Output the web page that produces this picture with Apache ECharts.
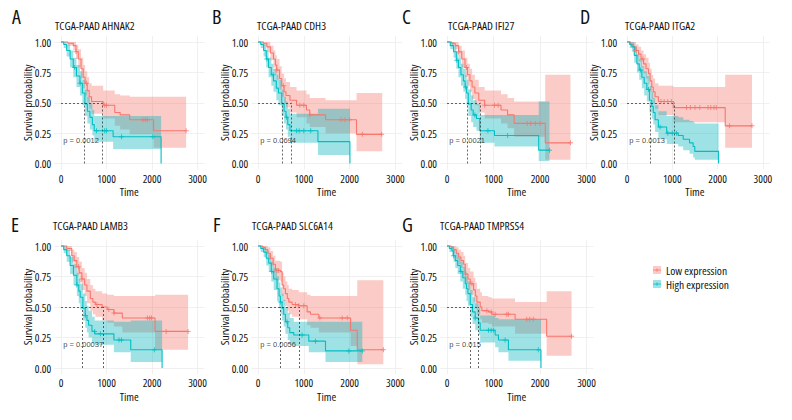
<!DOCTYPE html>
<html><head><meta charset="utf-8">
<script src="https://cdn.jsdelivr.net/npm/echarts@6/dist/echarts.min.js"></script>
<style>html,body{margin:0;padding:0;background:#fff}#c{width:792px;height:420px}
#c svg text{font-stretch:75% !important;font-weight:400 !important;}
</style>
</head><body><div id="c"></div>
<script>
// ---------- data ----------
const panelLetters = ['A','B','C','D','E','F','G'];
const panelTitles = ['TCGA-PAAD AHNAK2','TCGA-PAAD CDH3','TCGA-PAAD IFI27','TCGA-PAAD ITGA2','TCGA-PAAD LAMB3','TCGA-PAAD SLC6A14','TCGA-PAAD TMPRSS4'];
const pValues = ['p = 0.0012','p = 0.0694','p = 0.0021','p = 0.0013','p = 0.00037','p = 0.0056','p = 0.015'];
const medianHigh = [511,525,444,511,474,489,493];
const medianLow  = [912,727,711,1036,919,905,671];
const xTicks = [0,1000,2000,3000];
const yTicks = [0,0.25,0.5,0.75,1];
const groupNames = ['Low expression','High expression'];
// rows: [time, survival, lower CI, upper CI]
const A_low = [[0,1,1,1],[150,0.99,0.97,1],[270,0.97,0.93,1],[330,0.92,0.86,0.98],[380,0.86,0.79,0.94],[440,0.78,0.70,0.87],[489,0.71,0.62,0.81],[530,0.66,0.56,0.76],[577,0.60,0.50,0.71],[620,0.55,0.45,0.66],[672,0.51,0.41,0.64],[927,0.48,0.37,0.60],[1182,0.42,0.31,0.57],[1300,0.40,0.28,0.56],[1510,0.36,0.24,0.55],[2036,0.27,0.13,0.55],[2750,0.27,0.13,0.55]];
const A_high = [[0,1,1,1],[60,0.98,0.95,1],[124,0.93,0.88,0.98],[200,0.86,0.79,0.93],[270,0.79,0.71,0.87],[340,0.72,0.63,0.81],[416,0.66,0.56,0.76],[470,0.58,0.48,0.69],[525,0.49,0.39,0.61],[580,0.43,0.33,0.55],[635,0.38,0.28,0.50],[690,0.32,0.23,0.44],[730,0.27,0.18,0.39],[1146,0.22,0.12,0.39],[2200,0,0,0]];
const B_low = [[0,1,1,1],[120,0.99,0.97,1],[194,0.96,0.92,1],[270,0.91,0.85,0.97],[338,0.86,0.79,0.93],[380,0.81,0.73,0.89],[410,0.77,0.69,0.86],[470,0.70,0.61,0.80],[518,0.64,0.55,0.74],[570,0.59,0.49,0.70],[611,0.56,0.46,0.67],[698,0.52,0.42,0.63],[842,0.48,0.38,0.60],[1058,0.44,0.33,0.57],[1130,0.40,0.30,0.54],[1475,0.36,0.25,0.52],[2151,0.24,0.10,0.58],[2712,0.24,0.10,0.58]];
const B_high = [[0,1,1,1],[60,0.98,0.95,1],[122,0.93,0.88,0.98],[180,0.86,0.79,0.93],[230,0.79,0.71,0.87],[290,0.73,0.64,0.82],[338,0.68,0.59,0.78],[400,0.62,0.52,0.73],[446,0.58,0.48,0.69],[518,0.49,0.39,0.61],[570,0.43,0.33,0.55],[611,0.38,0.28,0.51],[650,0.32,0.22,0.45],[698,0.27,0.17,0.41],[1309,0.18,0.07,0.45],[2007,0,0,0]];
const C_low = [[0,1,1,1],[100,0.99,0.97,1],[176,0.97,0.94,1],[250,0.92,0.87,0.97],[317,0.86,0.79,0.93],[387,0.79,0.71,0.87],[440,0.73,0.64,0.82],[493,0.68,0.59,0.78],[540,0.63,0.53,0.73],[599,0.58,0.48,0.69],[683,0.52,0.42,0.63],[810,0.48,0.37,0.60],[1162,0.44,0.33,0.57],[1303,0.40,0.29,0.54],[1444,0.33,0.22,0.51],[2113,0.17,0.03,0.73],[2655,0.17,0.03,0.73]];
const C_high = [[0,1,1,1],[70,0.97,0.94,1],[141,0.92,0.87,0.97],[200,0.85,0.78,0.92],[246,0.79,0.71,0.87],[300,0.73,0.64,0.82],[352,0.68,0.59,0.78],[390,0.63,0.53,0.73],[422,0.58,0.48,0.69],[458,0.49,0.39,0.61],[520,0.44,0.34,0.56],[563,0.40,0.30,0.52],[634,0.37,0.27,0.49],[704,0.27,0.17,0.40],[1021,0.23,0.14,0.40],[1972,0.11,0.02,0.51],[2204,0.11,0.02,0.51]];
const D_low = [[0,1,1,1],[80,0.98,0.96,1],[146,0.96,0.92,1],[200,0.93,0.88,0.98],[255,0.90,0.84,0.96],[310,0.86,0.79,0.93],[365,0.82,0.74,0.90],[420,0.78,0.70,0.87],[474,0.74,0.65,0.83],[510,0.68,0.59,0.78],[547,0.63,0.53,0.73],[580,0.59,0.49,0.70],[620,0.55,0.45,0.66],[693,0.51,0.40,0.64],[1022,0.46,0.34,0.63],[2168,0.31,0.13,0.73],[2759,0.31,0.13,0.73]];
const D_high = [[0,1,1,1],[60,0.98,0.95,1],[109,0.96,0.92,1],[160,0.89,0.83,0.96],[219,0.82,0.75,0.90],[270,0.77,0.69,0.86],[328,0.71,0.62,0.80],[380,0.66,0.56,0.76],[438,0.61,0.51,0.72],[496,0.52,0.42,0.64],[547,0.47,0.37,0.59],[580,0.42,0.32,0.54],[620,0.36,0.26,0.48],[693,0.30,0.20,0.43],[876,0.25,0.16,0.39],[1131,0.23,0.14,0.38],[1241,0.20,0.11,0.36],[1380,0.17,0.08,0.35],[1460,0.14,0.05,0.34],[1496,0.10,0.03,0.33],[2022,0,0,0]];
const E_low = [[0,1,1,1],[126,0.98,0.96,1],[237,0.92,0.87,0.97],[290,0.88,0.82,0.95],[348,0.83,0.76,0.91],[400,0.78,0.70,0.87],[459,0.73,0.64,0.82],[520,0.68,0.59,0.78],[570,0.63,0.53,0.73],[644,0.57,0.47,0.68],[700,0.54,0.44,0.65],[756,0.52,0.42,0.63],[904,0.50,0.39,0.61],[1015,0.48,0.37,0.60],[1163,0.45,0.34,0.59],[1348,0.41,0.29,0.59],[2067,0.30,0.15,0.60],[2793,0.30,0.15,0.60]];
const E_high = [[0,1,1,1],[60,0.97,0.94,1],[126,0.92,0.87,0.97],[200,0.84,0.77,0.91],[274,0.76,0.68,0.85],[348,0.68,0.59,0.78],[390,0.63,0.53,0.73],[422,0.58,0.48,0.69],[481,0.49,0.39,0.61],[533,0.43,0.33,0.55],[570,0.39,0.29,0.51],[607,0.35,0.25,0.47],[681,0.30,0.20,0.42],[741,0.28,0.19,0.39],[1163,0.23,0.13,0.38],[1533,0.15,0.05,0.39],[2222,0,0,0]];
const F_low = [[0,1,1,1],[100,0.99,0.97,1],[160,0.97,0.94,1],[215,0.94,0.89,0.99],[270,0.90,0.84,0.96],[330,0.85,0.78,0.92],[380,0.80,0.72,0.88],[489,0.79,0.71,0.87],[526,0.68,0.59,0.78],[560,0.65,0.55,0.75],[599,0.61,0.51,0.71],[640,0.57,0.47,0.68],[672,0.54,0.44,0.65],[745,0.52,0.42,0.64],[891,0.51,0.40,0.62],[1073,0.46,0.35,0.60],[1146,0.44,0.33,0.59],[1328,0.41,0.29,0.59],[2022,0.31,0.18,0.59],[2168,0.15,0.03,0.72],[2737,0.15,0.03,0.72]];
const F_high = [[0,1,1,1],[60,0.98,0.95,1],[124,0.95,0.91,0.99],[180,0.90,0.84,0.96],[234,0.86,0.79,0.93],[290,0.79,0.71,0.87],[343,0.73,0.64,0.82],[416,0.65,0.55,0.75],[460,0.59,0.49,0.70],[489,0.54,0.44,0.66],[526,0.49,0.39,0.61],[560,0.44,0.34,0.56],[599,0.38,0.28,0.50],[650,0.33,0.23,0.45],[693,0.29,0.19,0.41],[781,0.27,0.18,0.38],[1109,0.22,0.13,0.38],[1474,0.14,0.05,0.38],[2277,0.14,0.05,0.38]];
const G_low = [[0,1,1,1],[90,0.99,0.97,1],[143,0.97,0.94,1],[200,0.94,0.89,0.99],[250,0.91,0.85,0.97],[300,0.88,0.82,0.95],[357,0.85,0.78,0.92],[393,0.77,0.69,0.86],[450,0.73,0.64,0.82],[500,0.69,0.60,0.79],[571,0.64,0.54,0.74],[610,0.59,0.49,0.70],[643,0.54,0.44,0.65],[714,0.50,0.40,0.62],[750,0.47,0.37,0.59],[893,0.46,0.36,0.58],[964,0.44,0.34,0.57],[1464,0.40,0.28,0.54],[2143,0.26,0.10,0.63],[2679,0.26,0.10,0.63]];
const G_high = [[0,1,1,1],[50,0.98,0.95,1],[107,0.96,0.92,1],[140,0.92,0.87,0.97],[179,0.88,0.82,0.94],[230,0.84,0.77,0.91],[286,0.79,0.71,0.87],[340,0.74,0.65,0.83],[393,0.69,0.60,0.79],[420,0.65,0.55,0.75],[450,0.61,0.51,0.71],[500,0.52,0.42,0.64],[550,0.46,0.36,0.58],[607,0.41,0.31,0.53],[679,0.37,0.27,0.49],[714,0.31,0.21,0.43],[1036,0.27,0.17,0.41],[1107,0.23,0.13,0.40],[1321,0.15,0.06,0.40],[2021,0,0,0]];
// censoring times (marked with +)
const A_low_c = [330,560,960,1000,1800,1850,1900,2750];
const A_high_c = [300,420,780,960,1000,1330,2020];
const B_low_c = [410,554,914,1000,1130,1813,1900,2000,2280,2700];
const B_high_c = [194,330,626,842,900,1000,1150];
const C_low_c = [250,422,810,1021,1100,1725,1800,1900,2000,2655];
const C_high_c = [211,400,599,880,1303,2204];
const D_low_c = [200,350,750,820,900,980,1314,1400,1500,1606,1788,1850,1920,1970,2263,2759];
const D_high_c = [300,474,730,900,1000,1095];
const E_low_c = [385,460,790,1052,1163,1900,1950,1990,2311,2793];
const E_high_c = [348,533,740,867,1274,1330,2052];
const F_low_c = [416,450,818,891,1000,1350,1839,1949,2737];
const F_high_c = [300,489,635,963,1255,1985,2277];
const G_low_c = [393,536,857,950,1036,1285,1321,1714,1780,1857,2679];
const G_high_c = [143,300,607,893,950,1000,1250,1964];

// ---------- layout / style ----------
const lowCurves = [A_low,B_low,C_low,D_low,E_low,F_low,G_low];
const highCurves = [A_high,B_high,C_high,D_high,E_high,F_high,G_high];
const lowCens = [A_low_c,B_low_c,C_low_c,D_low_c,E_low_c,F_low_c,G_low_c];
const highCens = [A_high_c,B_high_c,C_high_c,D_high_c,E_high_c,F_high_c,G_high_c];
const FONT = "'Open Sans'";
const lineColors = ['#F8766D','#00BFC4'];
const bandColors = ['rgba(244,110,100,0.36)','rgba(0,180,186,0.38)'];
const panelPos = [ // x0 px of time 0, px per 1000, y px of S=1, y px of S=0
  [61,45.5,42,163.5],[258,45.8,42,163.5],[447,46.5,42,163.5],[627,45.3,42,163.5],
  [61,45.5,246,368],[258,45.8,246,368],[447,46.5,246,368]];
const titleLeft = [55,257,448,625,53,252,440];
const letterLeft = [12,212,402,580,11,213,402];
const PLUS = 'path://M2,0L3,0L3,2L5,2L5,3L3,3L3,5L2,5L2,3L0,3L0,2L2,2Z';

function survAt(cv,t){ let s=cv[0][1]; for(const r of cv){ if(r[0]<=t) s=r[1]; } return s; }
function bandRenderer(cv,color){
  return function(params,api){
    if(params.dataIndex!==0) return null;
    const n=cv.length, pts=[];
    for(let j=0;j<n;j++){
      pts.push(api.coord([cv[j][0],cv[j][3]]));
      if(j<n-1) pts.push(api.coord([cv[j+1][0],cv[j][3]]));
    }
    for(let j=n-1;j>=0;j--){
      if(j<n-1) pts.push(api.coord([cv[j+1][0],cv[j][2]]));
      pts.push(api.coord([cv[j][0],cv[j][2]]));
    }
    return {type:'polygon',shape:{points:pts},style:{fill:color}};
  };
}
function legendIcon(g){
  const svg='<svg xmlns="http://www.w3.org/2000/svg" width="24" height="24" viewBox="0 0 24 24">'+
    '<rect width="24" height="24" fill="'+bandColors[g]+'"/>'+
    '<rect x="0" y="11" width="24" height="2.4" fill="'+lineColors[g]+'"/>'+
    '<rect x="10.8" y="7" width="2.4" height="10" fill="'+lineColors[g]+'"/></svg>';
  return 'image://data:image/svg+xml;charset=utf-8,'+encodeURIComponent(svg);
}
const txt = (size,color)=>({fontFamily:FONT,fontSize:size,color:color||'#111'});

const grids=[], xAxes=[], yAxes=[], series=[], titles=[];
panelPos.forEach((p,i)=>{
  const [x0,k,y1,y0]=p;
  const h=y0-y1;
  grids.push({left:x0-150*k/1000, width:3300*k/1000, top:y1-0.05*h, height:1.1*h});
  const row = i<4?0:1;
  xAxes.push({type:'value',gridIndex:i,min:-150,max:3150,
    name:'Time',nameLocation:'middle',nameGap:16,nameMoveOverlap:false,nameTextStyle:txt(11.5),
    axisLine:{show:false},axisTick:{show:false,customValues:xTicks},
    axisLabel:Object.assign({customValues:xTicks,margin:3,formatter:v=>String(v)},txt(11)),
    splitLine:{show:true,lineStyle:{color:'#ececec',width:0.8}}});
  yAxes.push({type:'value',gridIndex:i,min:-0.05,max:1.05,
    name:'Survival probability',nameLocation:'middle',nameGap:21,nameMoveOverlap:false,nameTextStyle:txt(11.5),
    axisLine:{show:false},axisTick:{show:false,customValues:yTicks},
    axisLabel:Object.assign({customValues:yTicks,margin:3,formatter:v=>v.toFixed(2)},txt(11)),
    splitLine:{show:true,lineStyle:{color:'#ececec',width:0.8}}});
  titles.push({text:panelTitles[i],left:titleLeft[i],top:row?219.5:19.5,padding:0,
    textStyle:Object.assign({fontWeight:'normal'},txt(11.5))});
  titles.push({text:panelLetters[i],left:letterLeft[i],top:row?214:6,padding:0,
    textStyle:Object.assign({fontWeight:'normal'},txt(20))});

  [lowCurves[i],highCurves[i]].forEach((cv,g)=>{
    series.push({type:'custom',xAxisIndex:i,yAxisIndex:i,silent:true,z:1,
      dimensions:['t','s','lo','hi'],encode:{x:0,y:[2,3]},
      data:cv,renderItem:bandRenderer(cv,bandColors[g])});
  });
  [lowCurves[i],highCurves[i]].forEach((cv,g)=>{
    const s={type:'line',name:groupNames[g],xAxisIndex:i,yAxisIndex:i,step:'end',symbol:'none',
      data:cv.map(r=>[r[0],r[1]]),lineStyle:{color:lineColors[g],width:1.1},itemStyle:{color:lineColors[g]},z:4};
    if(g===1){
      const mh=medianHigh[i], ml=medianLow[i];
      s.markLine={silent:true,symbol:'none',label:{show:false},
        lineStyle:{color:'#222',type:[2,2],width:0.7},
        data:[[{coord:[0,0.5]},{coord:[Math.max(mh,ml),0.5]}],
              [{coord:[mh,0]},{coord:[mh,0.5]}],
              [{coord:[ml,0]},{coord:[ml,0.5]}]]};
    }
    series.push(s);
    const cens = g===0?lowCens[i]:highCens[i];
    series.push({type:'scatter',xAxisIndex:i,yAxisIndex:i,silent:true,z:5,
      symbol:PLUS,symbolSize:5,itemStyle:{color:lineColors[g]},
      data:cens.map(t=>[t,survAt(cv,t)])});
  });
  series.push({type:'scatter',xAxisIndex:i,yAxisIndex:i,symbolSize:0,silent:true,
    data:[[50,0.19]],z:6,
    label:{show:true,position:'right',distance:0,formatter:pValues[i],
      fontFamily:"'Liberation Sans',Arial,sans-serif",fontSize:7.5,color:'#111'}});
});

const chart = echarts.init(document.getElementById('c'),null,{renderer:'svg'});
chart.setOption({
  animation:false,
  backgroundColor:'#fff',
  textStyle:{fontFamily:FONT},
  title:titles,
  grid:grids, xAxis:xAxes, yAxis:yAxes,
  legend:{left:653,top:264,orient:'vertical',itemGap:2,itemWidth:8,itemHeight:8,selectedMode:false,padding:0,
      textStyle:Object.assign({lineHeight:12},txt(11.5)),
      data:[{name:groupNames[0],icon:legendIcon(0)},{name:groupNames[1],icon:legendIcon(1)}]},
  series:series
});
</script></body></html>
